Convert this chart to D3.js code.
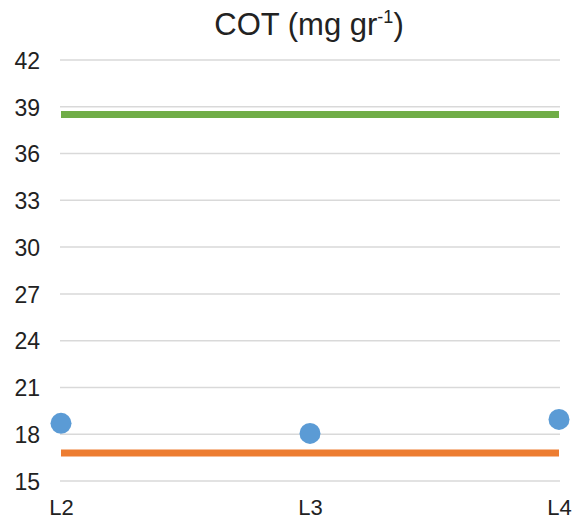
<!DOCTYPE html>
<html>
<head>
<meta charset="utf-8">
<script src="https://cdn.jsdelivr.net/npm/d3@7"></script>
<style>
  html, body { margin: 0; padding: 0; background: #fff; }
  svg { display: block; font-family: Arial, "Liberation Sans", sans-serif; }
</style>
</head>
<body>
<svg id="chart" width="573" height="521"></svg>
<script>
const categories = ["L2", "L3", "L4"];
const pointValues = [18.7, 18.05, 18.95];
const greenValue = 38.5;
const orangeValue = 16.8;
const yTicks = [15, 18, 21, 24, 27, 30, 33, 36, 39, 42];

const svg = d3.select("#chart");
const x = d3.scalePoint().domain(categories).range([61, 559]);
const y = d3.scaleLinear().domain([15, 42]).range([481, 60]);

// title
const title = svg.append("text")
  .attr("x", 309).attr("y", 35)
  .attr("text-anchor", "middle")
  .attr("font-size", 31).attr("fill", "#222");
title.append("tspan").text("COT (mg gr");
title.append("tspan").attr("font-size", 18).attr("dy", -12).text("-1");
title.append("tspan").attr("dy", 12).text(")");

// gridlines
svg.append("g").selectAll("line").data(yTicks).join("line")
  .attr("x1", 60).attr("x2", 560)
  .attr("y1", d => y(d)).attr("y2", d => y(d))
  .attr("stroke", "#d9d9d9").attr("stroke-width", 1.5);

// y axis labels
const yAxis = d3.axisLeft(y).tickValues(yTicks).tickSize(0).tickPadding(0);
const gy = svg.append("g").attr("transform", "translate(40,0)").call(yAxis);
gy.select(".domain").remove();
gy.selectAll("text").attr("font-size", 23).attr("fill", "#222")
  .attr("font-family", "Arial, 'Liberation Sans', sans-serif").attr("dy", "0.36em");

// x axis labels
const xAxis = d3.axisBottom(x).tickSize(0).tickPadding(0);
const gx = svg.append("g").attr("transform", "translate(0,499)").call(xAxis);
gx.select(".domain").remove();
gx.selectAll("text").attr("font-size", 22).attr("fill", "#222")
  .attr("font-family", "Arial, 'Liberation Sans', sans-serif").attr("dy", "0.72em");

// horizontal reference lines
const ext = [categories[0], categories[categories.length - 1]];
svg.append("line")
  .attr("x1", x(ext[0])).attr("x2", x(ext[1]))
  .attr("y1", y(greenValue)).attr("y2", y(greenValue))
  .attr("stroke", "#70ad47").attr("stroke-width", 7);
svg.append("line")
  .attr("x1", x(ext[0])).attr("x2", x(ext[1]))
  .attr("y1", y(orangeValue)).attr("y2", y(orangeValue))
  .attr("stroke", "#ed7d31").attr("stroke-width", 7);

// points
svg.append("g").selectAll("circle").data(pointValues).join("circle")
  .attr("cx", (d, i) => x(categories[i]))
  .attr("cy", d => y(d))
  .attr("r", 10.5)
  .attr("fill", "#5b9bd5");
</script>
</body>
</html>
